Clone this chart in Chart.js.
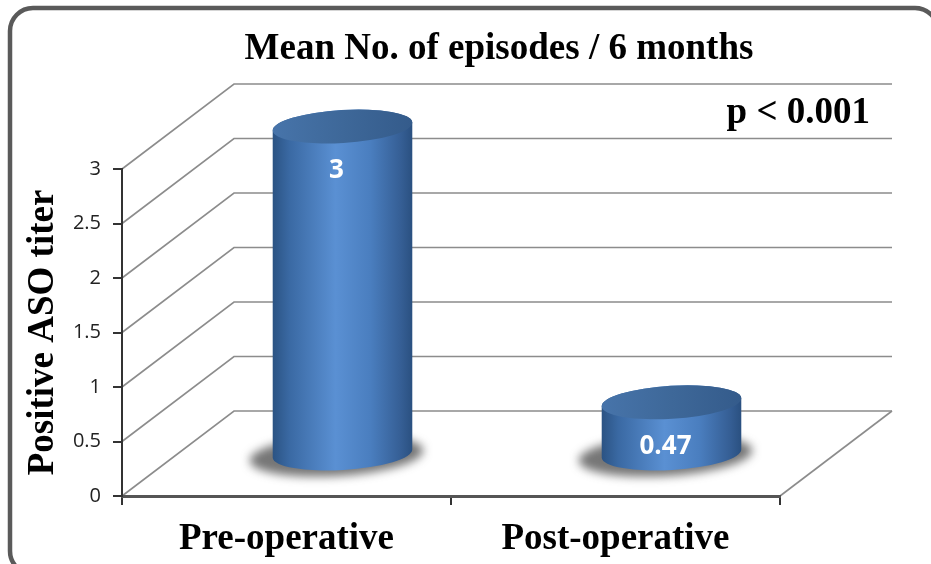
<!DOCTYPE html>
<html>
<head>
<meta charset="utf-8">
<script src="https://cdn.jsdelivr.net/npm/chart.js@4.4.1/dist/chart.umd.min.js"></script>
<style>
  html, body { margin: 0; padding: 0; background: #fff; }
</style>
</head>
<body>
<canvas id="chart" width="931" height="564"></canvas>
<script>
const categories = ["Pre-operative", "Post-operative"];
const meanEpisodes = [3, 0.47];
const valueLabels = ["3", "0.47"];
const yMin = 0, yMax = 3, yStep = 0.5;
const chartTitle = "Mean No. of episodes / 6 months";
const yTitle = "Positive ASO titer";
const pNote = "p < 0.001";

// 3d look: how far the back wall sits from the front axis
const DEPTH_X = 112, DEPTH_Y = -85;
const SERIF = "'Liberation Serif', 'Times New Roman', serif";
const SANS = "'Open Sans', 'DejaVu Sans', sans-serif";

function drawCylinder(ctx, cx, topY, baseY, rx, ry, rot) {
  // soft shadow on the floor
  ctx.save();
  ctx.filter = "blur(5px)";
  ctx.fillStyle = "rgba(60,60,60,0.7)";
  ctx.beginPath();
  ctx.ellipse(cx - 6, baseY + 2, rx + 17, ry + 4, rot, 0, Math.PI * 2);
  ctx.fill();
  ctx.restore();

  // side
  const g = ctx.createLinearGradient(cx - rx, 0, cx + rx, 0);
  g.addColorStop(0, "#2b5383");
  g.addColorStop(0.12, "#3a69a3");
  g.addColorStop(0.45, "#5a90d3");
  g.addColorStop(0.7, "#4a7ebf");
  g.addColorStop(0.92, "#355e94");
  g.addColorStop(1, "#2a5080");
  ctx.beginPath();
  ctx.ellipse(cx, baseY, rx, ry, rot, 0, Math.PI, false);
  ctx.ellipse(cx, topY, rx, ry, rot, Math.PI, Math.PI * 2, false);
  ctx.closePath();
  ctx.fillStyle = g;
  ctx.fill();

  // top face
  const t = ctx.createLinearGradient(cx - rx, topY, cx + rx, topY);
  t.addColorStop(0, "#4774aa");
  t.addColorStop(0.5, "#3e6899");
  t.addColorStop(1, "#345b8b");
  ctx.beginPath();
  ctx.ellipse(cx, topY, rx, ry, rot, 0, Math.PI * 2);
  ctx.fillStyle = t;
  ctx.fill();
}

const box3d = {
  id: "box3d",
  beforeDraw(chart) {
    const ctx = chart.ctx;
    const ys = chart.scales.y;
    const L = chart.chartArea.left, R = chart.chartArea.right;
    ctx.save();
    ctx.fillStyle = "#fff";
    ctx.fillRect(0, 0, chart.width, chart.height);

    // outer frame
    ctx.strokeStyle = "#5a5a5a";
    ctx.lineWidth = 4.5;
    ctx.beginPath();
    ctx.roundRect(10, 8, 928, 566, 23);
    ctx.stroke();

    // side wall + back wall grid
    ctx.strokeStyle = "#8c8c8c";
    ctx.lineWidth = 1.6;
    ys.ticks.forEach(tk => {
      const y = ys.getPixelForValue(tk.value);
      ctx.beginPath();
      ctx.moveTo(L, y);
      ctx.lineTo(L + DEPTH_X, y + DEPTH_Y);
      ctx.lineTo(R + DEPTH_X, y + DEPTH_Y);
      ctx.stroke();
    });
    // floor right edge
    const y0 = ys.getPixelForValue(yMin);
    ctx.beginPath();
    ctx.moveTo(R, y0);
    ctx.lineTo(R + DEPTH_X, y0 + DEPTH_Y);
    ctx.stroke();
    ctx.restore();
  },
  afterDatasetsDraw(chart) {
    const ctx = chart.ctx;
    const ys = chart.scales.y;
    const meta = chart.getDatasetMeta(0);
    ctx.save();
    meta.data.forEach((bar, i) => {
      const cx = bar.x + DEPTH_X / 2;
      const topY = bar.y + DEPTH_Y / 2;
      const baseY = ys.getPixelForValue(yMin) + DEPTH_Y / 2;
      drawCylinder(ctx, cx, topY, baseY, bar.width / 2, 16.5, -0.06);
      ctx.fillStyle = "#fff";
      ctx.font = "bold 26px " + SANS;
      ctx.textAlign = "center";
      ctx.textBaseline = "middle";
      ctx.fillText(valueLabels[i], cx - 6, topY + 44);
    });

    ctx.fillStyle = "#000";
    ctx.font = "bold 37px " + SERIF;
    ctx.textBaseline = "alphabetic";
    ctx.textAlign = "center";
    ctx.fillText(chartTitle, 499, 59);
    ctx.textAlign = "right";
    ctx.fillText(pNote, 870, 123);
    ctx.restore();
  }
};

new Chart(document.getElementById("chart"), {
  type: "bar",
  data: {
    labels: categories,
    datasets: [{
      data: meanEpisodes,
      backgroundColor: "rgba(0,0,0,0)",
      borderWidth: 0,
      categoryPercentage: 1,
      barPercentage: 0.425
    }]
  },
  options: {
    responsive: false,
    animation: false,
    devicePixelRatio: 1,
    layout: { padding: { left: 10, top: 169, right: 151, bottom: 0 } },
    plugins: {
      legend: { display: false },
      tooltip: { enabled: false },
      title: { display: false }
    },
    scales: {
      x: {
        grid: { drawOnChartArea: false, drawTicks: true, tickLength: 9, color: "#333", lineWidth: 2 },
        border: { display: true, color: "#555", width: 3 },
        ticks: { color: "#000", padding: 12, font: { family: SERIF, size: 37, weight: "bold" } },
        afterFit(scale) { scale.height = 68; }
      },
      y: {
        min: yMin,
        max: yMax,
        grid: { drawOnChartArea: false, drawTicks: true, tickLength: 9, color: "#333", lineWidth: 2 },
        border: { display: true, color: "#333", width: 2 },
        ticks: {
          stepSize: yStep,
          color: "#222",
          padding: 12,
          font: { family: SANS, size: 20 },
          callback: v => String(v)
        },
        title: {
          display: true,
          text: yTitle,
          color: "#000",
          padding: { top: 11, bottom: 0 },
          font: { family: SERIF, size: 37, weight: "bold" }
        },
        afterFit(scale) { scale.width = 112; }
      }
    }
  },
  plugins: [box3d]
});
</script>
</body>
</html>
